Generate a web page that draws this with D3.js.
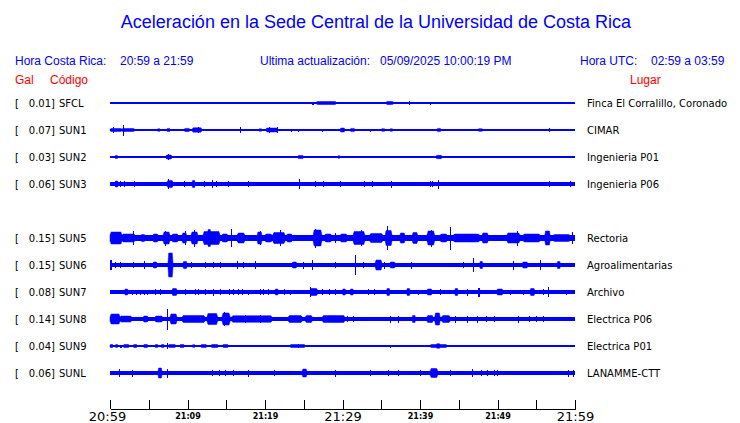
<!DOCTYPE html>
<html>
<head>
<meta charset="utf-8">
<title>Aceleración Sede Central UCR</title>
<style>
body { margin: 0; background: #fff; }
svg text { font-family: "DejaVu Sans", sans-serif; }
.title { font-family: "Liberation Sans", Arial, sans-serif; font-size: 18px; fill: #0000ff; }
.head { font-family: "Liberation Sans", Arial, sans-serif; font-size: 12px; fill: #0000ff; }
.red { font-family: "Liberation Sans", Arial, sans-serif; font-size: 12px; fill: #ff0000; }
.lab { font-size: 10px; fill: #000; }
.trace rect { fill: #0000ff; shape-rendering: crispEdges; }
.trace path { fill: #0000ff; stroke: #0000ff; stroke-width: 0.5; }
.axis path, .axis line { stroke: #000; shape-rendering: crispEdges; }
</style>
<script src="https://cdn.jsdelivr.net/npm/d3@7"></script>
</head>
<body>
<svg width="740" height="423"></svg>
<script>
// stations, peak acceleration (Gal) and place names
var codes  = ["SFCL", "SUN1", "SUN2", "SUN3", "SUN5", "SUN6", "SUN7", "SUN8", "SUN9", "SUNL"];
var gal    = [0.01, 0.07, 0.03, 0.06, 0.15, 0.15, 0.08, 0.14, 0.04, 0.06];
var places = ["Finca El Corralillo, Coronado", "CIMAR", "Ingenieria P01", "Ingenieria P06",
              "Rectoria", "Agroalimentarias", "Archivo", "Electrica P06", "Electrica P01", "LANAMME-CTT"];

// background noise level of each trace (relative amplitude)
var baseAmp = [0.7, 0.7, 0.7, 2, 2.7, 1.7, 1.7, 2, 0.7, 2];

// bursts per trace: [start minute, end minute, relative amplitude]
var evSFCL = [[1.85,1.85,1],[26.1,26.3,1.5],[26.6,29.2,1.5],[35.6,36.6,1.5],[38.6,38.6,2],[41.3,41.3,1.5]];
var evSUN1 = [[0,1.55,1.5],[0.4,0.4,3],[1.7,1.7,5.5],[1.5,3.2,1.5],[3.5,3.5,1],[4.6,4.6,1],[5.5,5.5,1],[6.1,6.5,1.2],
  [7.35,7.74,1.6],[8.1,8.1,1.2],[8.4,8.4,1.2],[9.3,9.3,1],[9.55,10.32,1.6],[10.58,11.87,2.2],[11.35,11.35,3],
  [12.7,12.7,1],[12.9,12.9,1],[13.3,13.3,1.2],[14.6,14.6,1],[15.3,15.3,1],[15.7,15.7,1],[16.1,16.1,1.2],
  [16.8,16.8,3],[17.6,17.6,1],[18.6,18.8,1.2],[19.2,19.6,1.2],[20.1,21.7,2],[20.5,20.5,3],[21.5,21.5,3],
  [22.6,22.6,1.2],[23.3,23.3,1.5],[23.8,23.8,1.2],[24.3,24.3,1.5],[24.9,24.9,1.2],[25.4,25.4,1],
  [26.5,26.5,1],[27.4,27.4,1.5],[29.7,30.3,2],[31.0,31.6,1.6],[33.5,33.5,1.5],[34.6,34.6,1],[35.0,35.5,1.3],
  [35.9,35.9,1.2],[36.1,36.5,1.2],[37.0,37.3,1.3],[42.2,42.7,1.6],[43.0,43.0,1.2],[43.5,43.5,1.2],
  [47.5,48.1,1.3],[56.6,56.6,2],[58.2,58.2,1]];
var evSUN2 = [[0.65,1.0,1.5],[1.3,1.3,1.2],[6.2,6.45,1.3],[7.2,8.0,2],[7.45,7.45,3],[8.25,8.25,1.3],[12.1,12.1,1],
  [14.8,14.8,1],[15.35,15.35,1.2],[15.75,15.75,1.2],[17.7,17.7,1],[23.2,23.2,1],[23.8,23.8,1],[24.2,25.0,1.6],
  [26.5,26.5,1],[29.4,29.7,1.3],[42.06,42.84,1.7],[43.0,43.0,1],[49.25,49.25,1]];
var evSUN3 = [[0.65,1.03,3],[1.3,1.3,3],[1.85,1.85,3],[3.1,3.1,3],[7.35,8.13,3.5],[7.45,7.45,5],[9.6,9.6,3],
  [10.6,10.97,3.5],[12.1,12.1,3],[13.2,13.2,4],[13.7,13.7,3],[15.2,15.2,2.8],[17.8,17.8,3],[24.4,24.4,5],
  [26.5,26.5,3],[27.5,27.5,3],[29.7,29.7,3],[32.8,32.8,3],[33.8,33.8,3],[36.2,36.4,3.5],[41.3,41.3,3],
  [41.6,41.6,3],[42.3,42.5,4.5],[56.6,56.6,3],[59.35,59.35,3]];
var evSUN5 = [[0,1.55,6],[1.55,3.23,4],[3.0,3.0,7],[4.0,4.5,3.5],[5.55,6.2,4],[6.84,7.74,6],[7.1,7.1,7.5],
  [8.0,8.8,4],[9.3,9.9,5],[9.7,9.7,7],[10.45,11.35,6],[10.9,10.9,8.5],[12.0,14.2,6.5],[12.6,13.0,8.5],
  [14.45,15.2,4],[15.6,15.6,9],[16.4,17.4,5],[19.0,19.6,6],[19.35,19.35,7],[20.0,20.9,4],[21.0,22.6,5.5],
  [21.9,21.9,8],[22.8,23.5,4],[26.2,27.35,8],[26.5,26.5,9.5],[27.7,28.6,4],[29.0,29.0,5],[29.7,30.6,4],
  [31.35,32.9,6.5],[32.35,32.35,8],[33.5,35.2,4.5],[35.5,36.4,7.5],[35.7,35.7,12],[37.4,38.06,5],
  [39.0,39.7,5.5],[40.9,41.9,7],[41.4,41.4,8.5],[42.6,43.5,4],[43.9,44.0,11.5],[44.3,47.7,4],[48.0,48.8,5],
  [51.2,52.9,5],[52.5,52.5,7.5],[53.3,55.5,4],[56.1,56.8,7],[57.2,59.35,3.5],[59.6,59.7,6]];
var evSUN6 = [[0,0.25,5],[0.65,0.65,3],[1.3,1.3,3],[3.0,3.0,3],[4.4,4.4,4],[5.55,6.06,3],[7.48,8.13,12],
  [9.42,9.94,3.5],[10.5,10.5,3],[12.26,12.26,3],[13.3,13.3,3],[14.2,14.2,3],[16.35,16.35,4],[17.2,17.2,3],
  [18.7,18.7,4],[23.5,24.1,3],[24.9,24.9,3.5],[26.0,26.0,5],[29.0,29.0,3],[31.6,31.6,10],[32.7,32.7,3],
  [34.2,35.1,5],[35.3,35.3,3.5],[36.1,36.8,3],[38.9,38.9,3.5],[45.6,45.6,3],[46.9,46.9,7],[47.7,48.1,3.5],
  [52.0,52.0,4.5],[53.2,53.9,3],[55.5,55.5,5],[57.7,58.1,3.5]];
var evSUN7 = [[1.9,2.3,3],[2.8,2.8,2.5],[3.3,3.3,2.5],[3.9,3.9,2.5],[4.4,4.4,2.5],[4.8,4.8,2.5],[5.8,5.8,3],
  [6.45,6.45,3],[8.0,8.65,3.5],[9.7,9.7,3],[10.97,10.97,3],[11.4,11.4,3],[12.26,12.26,3],[13.3,13.3,3.5],
  [14.2,14.2,3],[15.3,15.3,3],[15.9,15.9,3],[16.5,16.5,3],[17.0,17.0,3],[17.8,17.8,2.5],[19.35,19.35,3],
  [19.8,19.8,3],[20.4,20.4,3],[21.3,21.7,3],[22.4,22.4,3],[23.2,23.2,2.5],[25.8,26.8,3.5],[25.8,25.8,5],
  [27.4,27.4,3],[28.3,28.3,3],[29.0,29.0,3],[30.0,30.4,3],[31.0,31.4,3],[33.3,33.3,3],[34.0,34.0,3],
  [35.7,36.1,3.5],[38.3,38.7,3.5],[39.8,39.8,2.5],[40.9,41.55,3],[42.6,42.6,3],[44.5,44.9,3.5],[46.0,46.0,3.5],
  [47.5,47.8,4.5],[49.9,50.7,3],[51.6,51.6,2.5],[53.3,53.3,2.5],[54.2,54.8,3.5],[55.9,55.9,3],[56.5,56.6,5],
  [58.9,58.9,2.5]];
var evSUN8 = [[0,1.3,5],[1.3,2.8,3],[4.3,4.9,3],[5.8,6.8,3],[7.35,7.35,10.5],[7.74,8.65,5],[9.3,12.26,3.5],
  [12.5,13.9,5.5],[14.45,15.5,6],[14.75,14.75,7],[15.7,20.9,3.3],[17.4,17.4,4.2],[19.4,19.4,4],[23.0,24.8,3.5],
  [25.2,26.1,3.5],[27.4,30.3,3.5],[30.6,30.6,3],[31.3,31.3,3],[36.1,36.2,3.5],[37.2,37.2,3.5],[39.0,39.4,3.5],
  [40.9,41.7,3.5],[41.9,42.6,6],[42.8,43.9,3.5],[44.5,44.5,3.5],[46.0,46.0,3.5],[47.3,47.3,3.5],[48.5,48.5,3],
  [49.6,49.6,3],[52.7,52.8,3.5],[54.0,54.0,3],[55.0,55.0,3],[55.9,55.9,3]];
var evSUN9 = [[0,0.4,1.5],[0.7,1.0,1.5],[1.3,1.55,1.5],[1.7,2.5,1.5],[3.0,3.5,1.5],[4.3,4.9,1.5],[5.8,6.2,1.5],
  [6.6,7.0,1.5],[7.4,7.4,3],[7.5,8.5,1.5],[9.0,9.6,1.5],[10.3,10.6,1.3],[10.6,11.0,1.3],[11.7,12.5,1.5],
  [13.0,14.0,1.5],[14.5,15.3,1.5],[15.8,16.0,1.3],[17.7,17.7,1.3],[18.3,18.3,1.3],[19.1,19.1,1.3],
  [20.4,20.4,1.3],[21.6,21.6,1.3],[23.2,25.2,1.5],[24.3,24.3,2.2],[26.2,26.2,1.3],[27.5,27.5,1.3],
  [29.0,29.0,1.3],[36.1,36.1,1.5],[37.6,37.6,1],[39.6,39.6,1],[41.3,43.5,1.5],[42.1,42.6,2.3],[44.7,44.7,1],
  [46.0,46.0,1],[46.9,46.9,1],[48.1,48.1,1.2],[50.3,50.3,1],[51.2,51.2,1],[55.3,55.3,1],[56.8,56.8,1]];
var evSUNL = [[1.1,1.1,4],[2.8,2.8,3.5],[6.2,6.7,5],[7.4,7.4,4.5],[13.1,13.1,3],[14.0,14.0,3],[14.8,14.8,3],
  [15.9,15.9,3],[17.8,17.8,3.5],[21.1,21.1,3],[24.8,25.4,4],[29.0,29.0,3.5],[33.5,33.5,3],[35.9,35.9,3],
  [37.2,37.2,3],[40.0,40.0,3],[41.3,42.3,4.5],[43.9,43.9,3],[46.7,46.7,4],[47.9,47.9,3],[48.7,48.7,3],
  [49.5,49.5,3],[49.9,49.9,3],[59.1,59.1,3.5],[59.8,59.8,3.5]];
var events = [evSFCL, evSUN1, evSUN2, evSUN3, evSUN5, evSUN6, evSUN7, evSUN8, evSUN9, evSUNL];

// time axis: minutes after 20:59 local
var tickMinutes = d3.range(0, 61, 5);
var tickLabels = {0: "20:59", 10: "21:09", 20: "21:19", 30: "21:29", 40: "21:39", 50: "21:49", 60: "21:59"};

var svg = d3.select("svg");

var x = d3.scaleLinear().domain([0, 60]).range([110, 575]);
// SUN4 has no row, the gap is kept
var slots = codes.slice(0, 4).concat(["gap"], codes.slice(4));
var y = d3.scalePoint().domain(slots).range([103, 373]);
var a = d3.scaleLinear().domain([0, 12]).range([0, 12]);

svg.append("text").attr("class", "title")
    .attr("x", 376).attr("y", 28).attr("text-anchor", "middle")
    .text("Aceleración en la Sede Central de la Universidad de Costa Rica");

var head = [["Hora Costa Rica:", 15], ["20:59 a 21:59", 120], ["Ultima actualización:", 260],
            ["05/09/2025 10:00:19 PM", 380], ["Hora UTC:", 580], ["02:59 a 03:59", 651]];
svg.selectAll(".head").data(head).enter().append("text")
    .attr("class", "head")
    .attr("x", function(d) { return d[1]; })
    .attr("y", 65)
    .text(function(d) { return d[0]; });

svg.append("text").attr("class", "red").attr("x", 15).attr("y", 84).text("Gal");
svg.append("text").attr("class", "red").attr("x", 50).attr("y", 84).text("Código");
svg.append("text").attr("class", "red").attr("x", 630).attr("y", 84).text("Lugar");

var row = svg.selectAll(".row")
  .data(codes)
  .enter().append("g")
    .attr("class", "row")
    .attr("transform", function(d) { return "translate(0," + y(d) + ")"; });

row.append("text").attr("class", "lab")
    .attr("x", 15).attr("dy", "0.35em").text("[");
row.append("text").attr("class", "lab")
    .attr("x", 55).attr("dy", "0.35em").attr("text-anchor", "end")
    .text(function(d, i) { return gal[i].toFixed(2) + "]"; });
row.append("text").attr("class", "lab")
    .attr("x", 59).attr("dy", "0.35em")
    .text(function(d) { return d; });
row.append("text").attr("class", "lab")
    .attr("x", 587).attr("dy", "0.35em")
    .text(function(d, i) { return places[i]; });

var trace = row.append("g").attr("class", "trace");

trace.append("rect")
    .attr("x", x(0))
    .attr("width", x(60) - x(0))
    .attr("y", function(d, i) { return -Math.max(0.5, a(baseAmp[i])); })
    .attr("height", function(d, i) { return Math.max(1, 2 * a(baseAmp[i])); });

// short bursts as single strokes
trace.selectAll(".ev")
  .data(function(d, i) { return events[i].filter(function(e) { return e[1] - e[0] < 0.3; }); })
  .enter().append("rect")
    .attr("class", "ev")
    .attr("x", function(d) { return x(d[0]); })
    .attr("width", function(d) { return Math.max(1, x(d[1]) - x(d[0])); })
    .attr("y", function(d) { return -a(d[2]); })
    .attr("height", function(d) { return 2 * a(d[2]); });

// longer bursts as a tapered envelope
var env = d3.line().x(function(p) { return x(p[0]); }).y(function(p) { return a(p[1]); });
trace.selectAll(".burst")
  .data(function(d, i) {
    var b = baseAmp[i];
    return events[i].filter(function(e) { return e[1] - e[0] >= 0.3; })
      .map(function(e) { return {e: e, b: b}; });
  })
  .enter().append("path")
    .attr("class", "burst")
    .attr("d", function(d) {
      var t0 = d.e[0], t1 = d.e[1], h = d.e[2], s = Math.min(0.15, (t1 - t0) * 0.15);
      return env([[t0, -d.b], [t0 + s, -h], [t1 - s, -h], [t1, -d.b],
                  [t1, d.b], [t1 - s, h], [t0 + s, h], [t0, d.b]]) + "Z";
    });

var axis = svg.append("g")
    .attr("class", "axis")
    .attr("transform", "translate(0,409)")
    .call(d3.axisBottom(x)
      .tickValues(tickMinutes)
      .tickSizeInner(-9)
      .tickSizeOuter(0)
      .tickPadding(4)
      .tickFormat(function(d) { return tickLabels[d] || ""; }));

axis.selectAll("text")
    .attr("fill", "#000")
    .style("font-family", "'DejaVu Sans', sans-serif")
    .style("font-size", function(d) { return d % 30 === 0 ? "13px" : "8px"; })
    .style("font-weight", function(d) { return d % 30 === 0 ? "normal" : "bold"; })
    .attr("dx", function(d) { return d === 0 ? -3 : 0; })
    .attr("y", function(d) { return d % 30 === 0 ? 3 : 4; });
</script>
</body>
</html>
